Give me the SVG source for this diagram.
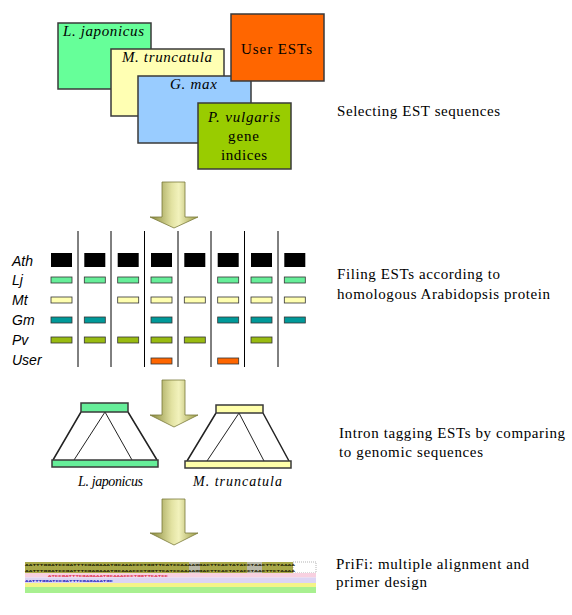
<svg xmlns="http://www.w3.org/2000/svg" width="572" height="615" viewBox="0 0 572 615">
<style>
.sf{font-family:"Liberation Serif","Times New Roman",serif;font-size:15px;fill:#000}
.it{font-style:italic}
.sm{font-size:14px}
.lbl{font-family:"Liberation Sans",Arial,sans-serif;font-size:14px;font-style:italic;fill:#000}
.box{stroke:#3a3a3a;stroke-width:1.5}
.cell{stroke:#333;stroke-width:0.8}
.ath{fill:#000}
.lj{fill:#66ee99}
.mt{fill:#ffffb0}
.gm{fill:#009999}
.pv{fill:#99bb11}
.us{fill:#ff6600}
.sep{stroke:#000;stroke-width:1}
.arrow{fill:url(#ag);stroke:#7a7a3a;stroke-width:0.8}
.trap{stroke:#222;fill:none}
.seq{font-family:"Liberation Mono","Courier New",monospace;font-size:4.2px;font-weight:bold}
</style>
<defs>
<linearGradient id="ag" x1="0" y1="0" x2="1" y2="0">
<stop offset="0" stop-color="#86863a"/>
<stop offset="0.45" stop-color="#e2e2a2"/>
<stop offset="0.6" stop-color="#f2f2bc"/>
<stop offset="1" stop-color="#9a9a44"/>
</linearGradient>
</defs>
<rect width="572" height="615" fill="#fff"/>

<g id="node-ljaponicus">
<rect class="box" x="58" y="23" width="93" height="66" fill="#66ff99"/>
<text class="sf it" x="63" y="36" textLength="81" lengthAdjust="spacing">L. japonicus</text>
</g>
<g id="node-mtruncatula">
<rect class="box" x="111" y="49" width="113" height="67" fill="#ffffb3"/>
<text class="sf it" x="122" y="62" textLength="90" lengthAdjust="spacing">M. truncatula</text>
</g>
<g id="node-gmax">
<rect class="box" x="138" y="76" width="113" height="67" fill="#99ccff"/>
<text class="sf it" x="170" y="89" textLength="47" lengthAdjust="spacing">G. max</text>
</g>
<g id="node-pvulgaris">
<rect class="box" x="198" y="103" width="93" height="66" fill="#99cc00"/>
<text class="sf it" x="208" y="122" textLength="72" lengthAdjust="spacing">P. vulgaris</text>
<text class="sf" x="228" y="141" textLength="31" lengthAdjust="spacing">gene</text>
<text class="sf" x="221" y="160" textLength="46" lengthAdjust="spacing">indices</text>
</g>
<g id="node-userests">
<rect class="box" x="231" y="14" width="93" height="67" fill="#ff6600" stroke="#7a3a1a"/>
<text class="sf" x="241" y="54" textLength="71" lengthAdjust="spacing">User ESTs</text>
</g>
<g id="caption-1">
<text class="sf" x="337" y="116" textLength="163" lengthAdjust="spacing">Selecting EST sequences</text>
</g>

<g id="connectors">
<path class="arrow" d="M162,182 H185 V217 H198 L174,228 L150,217 H162 Z"/>
<path class="arrow" d="M162,380 H185 V415 H198 L174,427 L150,415 H162 Z"/>
<path class="arrow" d="M162,499 H185 V533 H198 L174,545 L150,533 H162 Z"/>
</g>

<g id="node-grid">
<g id="row-labels">
<text class="lbl" x="12" y="266">Ath</text>
<text class="lbl" x="12" y="285">Lj</text>
<text class="lbl" x="12" y="305">Mt</text>
<text class="lbl" x="12" y="325">Gm</text>
<text class="lbl" x="12" y="345">Pv</text>
<text class="lbl" x="12" y="365">User</text>
</g>
<g id="separators">
<line class="sep" x1="78" y1="231" x2="78" y2="367"/>
<line class="sep" x1="111" y1="231" x2="111" y2="367"/>
<line class="sep" x1="144.5" y1="231" x2="144.5" y2="367"/>
<line class="sep" x1="178" y1="231" x2="178" y2="367"/>
<line class="sep" x1="211" y1="231" x2="211" y2="367"/>
<line class="sep" x1="244.5" y1="231" x2="244.5" y2="367"/>
<line class="sep" x1="278" y1="231" x2="278" y2="367"/>
</g>
<g id="row-ath">
<rect class="ath" x="51" y="253" width="21" height="14"/>
<rect class="ath" x="84.3" y="253" width="21" height="14"/>
<rect class="ath" x="117.7" y="253" width="21" height="14"/>
<rect class="ath" x="151" y="253" width="21" height="14"/>
<rect class="ath" x="184.3" y="253" width="21" height="14"/>
<rect class="ath" x="217.7" y="253" width="21" height="14"/>
<rect class="ath" x="251" y="253" width="21" height="14"/>
<rect class="ath" x="284.3" y="253" width="21" height="14"/>
</g>
<g id="row-lj">
<rect class="cell lj" x="51" y="277" width="21" height="6"/>
<rect class="cell lj" x="84.3" y="277" width="21" height="6"/>
<rect class="cell lj" x="117.7" y="277" width="21" height="6"/>
<rect class="cell lj" x="151" y="277" width="21" height="6"/>
<rect class="cell lj" x="217.7" y="277" width="21" height="6"/>
<rect class="cell lj" x="251" y="277" width="21" height="6"/>
<rect class="cell lj" x="284.3" y="277" width="21" height="6"/>
</g>
<g id="row-mt">
<rect class="cell mt" x="51" y="297" width="21" height="6"/>
<rect class="cell mt" x="117.7" y="297" width="21" height="6"/>
<rect class="cell mt" x="151" y="297" width="21" height="6"/>
<rect class="cell mt" x="184.3" y="297" width="21" height="6"/>
<rect class="cell mt" x="217.7" y="297" width="21" height="6"/>
<rect class="cell mt" x="251" y="297" width="21" height="6"/>
<rect class="cell mt" x="284.3" y="297" width="21" height="6"/>
</g>
<g id="row-gm">
<rect class="cell gm" x="51" y="317" width="21" height="6"/>
<rect class="cell gm" x="84.3" y="317" width="21" height="6"/>
<rect class="cell gm" x="151" y="317" width="21" height="6"/>
<rect class="cell gm" x="217.7" y="317" width="21" height="6"/>
<rect class="cell gm" x="251" y="317" width="21" height="6"/>
<rect class="cell gm" x="284.3" y="317" width="21" height="6"/>
</g>
<g id="row-pv">
<rect class="cell pv" x="51" y="337" width="21" height="6"/>
<rect class="cell pv" x="84.3" y="337" width="21" height="6"/>
<rect class="cell pv" x="117.7" y="337" width="21" height="6"/>
<rect class="cell pv" x="151" y="337" width="21" height="6"/>
<rect class="cell pv" x="184.3" y="337" width="21" height="6"/>
<rect class="cell pv" x="251" y="337" width="21" height="6"/>
</g>
<g id="row-user">
<rect class="cell us" x="151" y="358" width="21" height="6"/>
<rect class="cell us" x="217.7" y="358" width="21" height="6"/>
</g>
</g>
<g id="caption-2">
<text class="sf" x="337" y="279" textLength="163" lengthAdjust="spacing">Filing ESTs according to</text>
<text class="sf" x="337" y="299" textLength="213" lengthAdjust="spacing">homologous Arabidopsis protein</text>
</g>

<g id="node-intron-lj">
<path class="trap" stroke-width="1.5" d="M81,412 L53,460 M128,412 L157,460"/>
<path class="trap" stroke-width="1" d="M105,412 L74,460 M105,412 L132,460"/>
<rect class="box" x="81" y="403" width="47" height="9" fill="#66ee99" stroke-width="1.2"/>
<rect class="box" x="52" y="460" width="106" height="7" fill="#66ee99" stroke-width="1.2"/>
<text class="sf it sm" x="78" y="486" textLength="65" lengthAdjust="spacing">L. japonicus</text>
</g>
<g id="node-intron-mt">
<path class="trap" stroke-width="1.5" d="M216,413 L187,461 M263,413 L289,461"/>
<path class="trap" stroke-width="1" d="M239,413 L207,461 M239,413 L264,461"/>
<rect class="box" x="216" y="405" width="47" height="8" fill="#ffffaa" stroke-width="1.2"/>
<rect class="box" x="185" y="461" width="106" height="7" fill="#ffffaa" stroke-width="1.2"/>
<text class="sf it sm" x="193" y="486" textLength="89" lengthAdjust="spacing">M. truncatula</text>
</g>
<g id="caption-3">
<text class="sf" x="339" y="438" textLength="226" lengthAdjust="spacing">Intron tagging ESTs by comparing</text>
<text class="sf" x="339" y="457" textLength="144" lengthAdjust="spacing">to genomic sequences</text>
</g>

<g id="node-alignment">
<rect x="25" y="562" width="291" height="11" fill="#a8a848"/>
<rect x="189" y="562" width="11" height="11" fill="#b8b8a8"/>
<rect x="247" y="562" width="15" height="11" fill="#b8b8a8"/>
<rect x="293" y="562" width="23" height="11" fill="#ffffff" stroke="#666" stroke-width="0.5" stroke-dasharray="1,1"/>
<rect x="25" y="573" width="291" height="4.5" fill="#f8d0e0"/>
<rect x="25" y="577.5" width="291" height="5.5" fill="#dcd4f4"/>
<rect x="25" y="583" width="291" height="4" fill="#f4f488"/>
<rect x="25" y="587" width="291" height="6" fill="#a8f090"/>
<text class="seq" x="25" y="566.3" textLength="270" lengthAdjust="spacingAndGlyphs" fill="#1a1a00">AATTTGGATCCGATTTCGAGAAATGCAAACCCTGGTTCATCCAAAAGGACTTCACTATACCTAACTTCTAAAA</text>
<text class="seq" x="25" y="571.6" textLength="270" lengthAdjust="spacingAndGlyphs" fill="#1a1a00">AATTTGGATCCGATTTCGAGAAATGCAAACCCTGGTTCATCCAAAAGGACTTCACTATACCTAACTTCTAAAA</text>
<text class="seq" x="48" y="576.9" textLength="120" lengthAdjust="spacingAndGlyphs" fill="#e03050">ATCCGATTTCGAGAAATGCAAACCCTGGTTCATCC</text>
<text class="seq" x="25" y="582.2" textLength="88" lengthAdjust="spacingAndGlyphs" fill="#2020c0">AATTTGGATCCGATTTCGAGAAATGC</text>
</g>
<g id="caption-4">
<text class="sf" x="336" y="569" textLength="193" lengthAdjust="spacing">PriFi: multiple alignment and</text>
<text class="sf" x="336" y="587" textLength="91" lengthAdjust="spacing">primer design</text>
</g>
</svg>
